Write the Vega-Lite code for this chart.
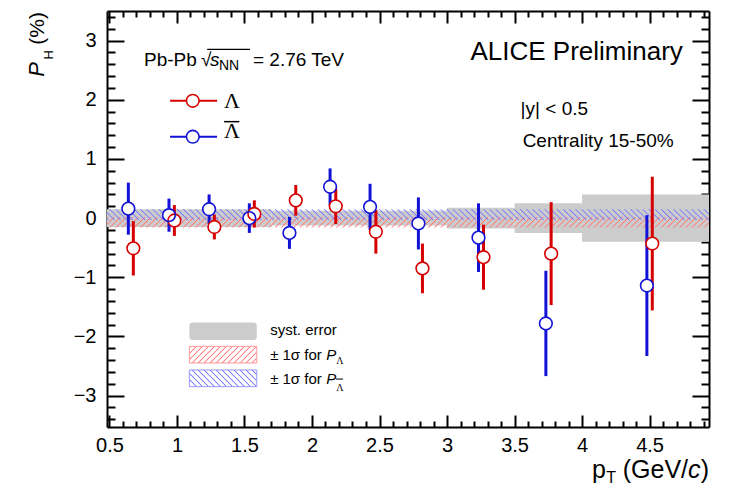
{
  "$schema": "https://vega.github.io/schema/vega-lite/v6.json",
  "width": 602,
  "height": 416,
  "autosize": "none",
  "padding": {"left": 107, "top": 11, "right": 27, "bottom": 61},
  "background": "white",
  "config": {
    "font": "Liberation Sans",
    "view": {"stroke": null},
    "axis": {"grid": false, "domain": true, "domainColor": "black", "domainWidth": 2, "tickColor": "black", "tickWidth": 2, "labelFont": "Liberation Sans", "labelFontSize": 20, "labelColor": "black", "labelFlush": false, "labelOverlap": false, "zindex": 1}
  },
  "datasets": {
    "pol": [
      {"sp": "L", "pt": 0.677, "p": -0.51, "err": 0.46},
      {"sp": "L", "pt": 0.981, "p": -0.04, "err": 0.26},
      {"sp": "L", "pt": 1.277, "p": -0.15, "err": 0.21},
      {"sp": "L", "pt": 1.573, "p": 0.07, "err": 0.23},
      {"sp": "L", "pt": 1.88, "p": 0.3, "err": 0.26},
      {"sp": "L", "pt": 2.176, "p": 0.2, "err": 0.3},
      {"sp": "L", "pt": 2.473, "p": -0.23, "err": 0.37},
      {"sp": "L", "pt": 2.818, "p": -0.85, "err": 0.42},
      {"sp": "L", "pt": 3.27, "p": -0.66, "err": 0.55},
      {"sp": "L", "pt": 3.771, "p": -0.6, "err": 0.87},
      {"sp": "L", "pt": 4.52, "p": -0.43, "err": 1.13},
      {"sp": "AL", "pt": 0.64, "p": 0.16, "err": 0.44},
      {"sp": "AL", "pt": 0.941, "p": 0.05, "err": 0.28},
      {"sp": "AL", "pt": 1.238, "p": 0.15, "err": 0.25},
      {"sp": "AL", "pt": 1.536, "p": 0.0, "err": 0.25},
      {"sp": "AL", "pt": 1.833, "p": -0.25, "err": 0.27},
      {"sp": "AL", "pt": 2.134, "p": 0.53, "err": 0.31},
      {"sp": "AL", "pt": 2.43, "p": 0.19, "err": 0.39},
      {"sp": "AL", "pt": 2.788, "p": -0.09, "err": 0.44},
      {"sp": "AL", "pt": 3.233, "p": -0.33, "err": 0.58},
      {"sp": "AL", "pt": 3.732, "p": -1.78, "err": 0.89},
      {"sp": "AL", "pt": 4.48, "p": -1.14, "err": 1.19}
    ],
    "syst": [
      {"x0": 0.482, "x1": 1.7, "lo": -0.15, "hi": 0.15},
      {"x0": 1.7, "x1": 3.0, "lo": -0.125, "hi": 0.125},
      {"x0": 3.0, "x1": 3.5, "lo": -0.175, "hi": 0.175},
      {"x0": 3.5, "x1": 4.0, "lo": -0.25, "hi": 0.25},
      {"x0": 4.0, "x1": 4.94, "lo": -0.4, "hi": 0.4}
    ]
  },
  "layer": [
    {
      "data": {"name": "syst"},
      "mark": {"type": "rect", "color": "#cccccc"},
      "encoding": {
        "x": {"field": "x0", "type": "quantitative", "scale": {"domain": [0.482, 4.94], "nice": false, "zero": false},
          "axis": {"orient": "bottom", "title": null, "format": "~g", "values": [0.5,0.6,0.7,0.8,0.9,1,1.1,1.2,1.3,1.4,1.5,1.6,1.7,1.8,1.9,2,2.1,2.2,2.3,2.4,2.5,2.6,2.7,2.8,2.9,3,3.1,3.2,3.3,3.4,3.5,3.6,3.7,3.8,3.9,4,4.1,4.2,4.3,4.4,4.5,4.6,4.7,4.8,4.9],
            "tickSize": {"condition": {"test": "abs(datum.value*2-round(datum.value*2))<0.01", "value": -12}, "value": -6},
            "labelExpr": "abs(datum.value*2-round(datum.value*2))<0.01 ? datum.label : ''", "labelPadding": 20}},
        "x2": {"field": "x1"},
        "y": {"field": "lo", "type": "quantitative", "scale": {"domain": [-3.53, 3.5], "nice": false, "zero": false},
          "axis": {"orient": "left", "title": null, "format": "~g", "values": [-3.4,-3.2,-3,-2.8,-2.6,-2.4,-2.2,-2,-1.8,-1.6,-1.4,-1.2,-1,-0.8,-0.6,-0.4,-0.2,0,0.2,0.4,0.6,0.8,1,1.2,1.4,1.6,1.8,2,2.2,2.4,2.6,2.8,3,3.2,3.4],
            "tickSize": {"condition": {"test": "abs(datum.value-round(datum.value))<0.01", "value": -17}, "value": -8},
            "labelExpr": "abs(datum.value-round(datum.value))<0.01 ? datum.label : ''", "labelPadding": 28}},
        "y2": {"field": "hi"}
      }
    },
    {
      "data": {"values": [{}]},
      "mark": {"type": "rect", "fill": {"gradient": "linear", "x1": 0, "y1": 0, "x2": 1.0174, "y2": 0.018, "stops": [
        {"offset":0,"color":"#f770"},{"offset":0.002,"color":"#f77"},{"offset":0.004,"color":"#f770"},
        {"offset":0.01,"color":"#f770"},{"offset":0.012,"color":"#f77"},{"offset":0.014,"color":"#f770"},
        {"offset":0.02,"color":"#f770"},{"offset":0.022,"color":"#f77"},{"offset":0.024,"color":"#f770"},
        {"offset":0.03,"color":"#f770"},{"offset":0.032,"color":"#f77"},{"offset":0.034,"color":"#f770"},
        {"offset":0.04,"color":"#f770"},{"offset":0.042,"color":"#f77"},{"offset":0.044,"color":"#f770"},
        {"offset":0.05,"color":"#f770"},{"offset":0.052,"color":"#f77"},{"offset":0.054,"color":"#f770"},
        {"offset":0.06,"color":"#f770"},{"offset":0.062,"color":"#f77"},{"offset":0.064,"color":"#f770"},
        {"offset":0.07,"color":"#f770"},{"offset":0.072,"color":"#f77"},{"offset":0.074,"color":"#f770"},
        {"offset":0.08,"color":"#f770"},{"offset":0.082,"color":"#f77"},{"offset":0.084,"color":"#f770"},
        {"offset":0.09,"color":"#f770"},{"offset":0.092,"color":"#f77"},{"offset":0.094,"color":"#f770"},
        {"offset":0.1,"color":"#f770"},{"offset":0.102,"color":"#f77"},{"offset":0.104,"color":"#f770"},
        {"offset":0.11,"color":"#f770"},{"offset":0.112,"color":"#f77"},{"offset":0.114,"color":"#f770"},
        {"offset":0.12,"color":"#f770"},{"offset":0.122,"color":"#f77"},{"offset":0.124,"color":"#f770"},
        {"offset":0.13,"color":"#f770"},{"offset":0.132,"color":"#f77"},{"offset":0.134,"color":"#f770"},
        {"offset":0.14,"color":"#f770"},{"offset":0.142,"color":"#f77"},{"offset":0.144,"color":"#f770"},
        {"offset":0.15,"color":"#f770"},{"offset":0.152,"color":"#f77"},{"offset":0.154,"color":"#f770"},
        {"offset":0.16,"color":"#f770"},{"offset":0.162,"color":"#f77"},{"offset":0.164,"color":"#f770"},
        {"offset":0.17,"color":"#f770"},{"offset":0.172,"color":"#f77"},{"offset":0.174,"color":"#f770"},
        {"offset":0.18,"color":"#f770"},{"offset":0.182,"color":"#f77"},{"offset":0.184,"color":"#f770"},
        {"offset":0.19,"color":"#f770"},{"offset":0.192,"color":"#f77"},{"offset":0.194,"color":"#f770"},
        {"offset":0.2,"color":"#f770"},{"offset":0.202,"color":"#f77"},{"offset":0.204,"color":"#f770"},
        {"offset":0.21,"color":"#f770"},{"offset":0.212,"color":"#f77"},{"offset":0.214,"color":"#f770"},
        {"offset":0.22,"color":"#f770"},{"offset":0.222,"color":"#f77"},{"offset":0.224,"color":"#f770"},
        {"offset":0.23,"color":"#f770"},{"offset":0.232,"color":"#f77"},{"offset":0.234,"color":"#f770"},
        {"offset":0.24,"color":"#f770"},{"offset":0.242,"color":"#f77"},{"offset":0.244,"color":"#f770"},
        {"offset":0.25,"color":"#f770"},{"offset":0.252,"color":"#f77"},{"offset":0.254,"color":"#f770"},
        {"offset":0.26,"color":"#f770"},{"offset":0.262,"color":"#f77"},{"offset":0.264,"color":"#f770"},
        {"offset":0.27,"color":"#f770"},{"offset":0.272,"color":"#f77"},{"offset":0.274,"color":"#f770"},
        {"offset":0.28,"color":"#f770"},{"offset":0.282,"color":"#f77"},{"offset":0.284,"color":"#f770"},
        {"offset":0.29,"color":"#f770"},{"offset":0.292,"color":"#f77"},{"offset":0.294,"color":"#f770"},
        {"offset":0.3,"color":"#f770"},{"offset":0.302,"color":"#f77"},{"offset":0.304,"color":"#f770"},
        {"offset":0.31,"color":"#f770"},{"offset":0.312,"color":"#f77"},{"offset":0.314,"color":"#f770"},
        {"offset":0.32,"color":"#f770"},{"offset":0.322,"color":"#f77"},{"offset":0.324,"color":"#f770"},
        {"offset":0.33,"color":"#f770"},{"offset":0.332,"color":"#f77"},{"offset":0.334,"color":"#f770"},
        {"offset":0.34,"color":"#f770"},{"offset":0.342,"color":"#f77"},{"offset":0.344,"color":"#f770"},
        {"offset":0.35,"color":"#f770"},{"offset":0.352,"color":"#f77"},{"offset":0.354,"color":"#f770"},
        {"offset":0.36,"color":"#f770"},{"offset":0.362,"color":"#f77"},{"offset":0.364,"color":"#f770"},
        {"offset":0.37,"color":"#f770"},{"offset":0.372,"color":"#f77"},{"offset":0.374,"color":"#f770"},
        {"offset":0.38,"color":"#f770"},{"offset":0.382,"color":"#f77"},{"offset":0.384,"color":"#f770"},
        {"offset":0.39,"color":"#f770"},{"offset":0.392,"color":"#f77"},{"offset":0.394,"color":"#f770"},
        {"offset":0.4,"color":"#f770"},{"offset":0.402,"color":"#f77"},{"offset":0.404,"color":"#f770"},
        {"offset":0.41,"color":"#f770"},{"offset":0.412,"color":"#f77"},{"offset":0.414,"color":"#f770"},
        {"offset":0.42,"color":"#f770"},{"offset":0.422,"color":"#f77"},{"offset":0.424,"color":"#f770"},
        {"offset":0.43,"color":"#f770"},{"offset":0.432,"color":"#f77"},{"offset":0.434,"color":"#f770"},
        {"offset":0.44,"color":"#f770"},{"offset":0.442,"color":"#f77"},{"offset":0.444,"color":"#f770"},
        {"offset":0.45,"color":"#f770"},{"offset":0.452,"color":"#f77"},{"offset":0.454,"color":"#f770"},
        {"offset":0.46,"color":"#f770"},{"offset":0.462,"color":"#f77"},{"offset":0.464,"color":"#f770"},
        {"offset":0.47,"color":"#f770"},{"offset":0.472,"color":"#f77"},{"offset":0.474,"color":"#f770"},
        {"offset":0.48,"color":"#f770"},{"offset":0.482,"color":"#f77"},{"offset":0.484,"color":"#f770"},
        {"offset":0.49,"color":"#f770"},{"offset":0.492,"color":"#f77"},{"offset":0.494,"color":"#f770"},
        {"offset":0.5,"color":"#f770"},{"offset":0.502,"color":"#f77"},{"offset":0.504,"color":"#f770"},
        {"offset":0.51,"color":"#f770"},{"offset":0.512,"color":"#f77"},{"offset":0.514,"color":"#f770"},
        {"offset":0.52,"color":"#f770"},{"offset":0.522,"color":"#f77"},{"offset":0.524,"color":"#f770"},
        {"offset":0.53,"color":"#f770"},{"offset":0.532,"color":"#f77"},{"offset":0.534,"color":"#f770"},
        {"offset":0.54,"color":"#f770"},{"offset":0.542,"color":"#f77"},{"offset":0.544,"color":"#f770"},
        {"offset":0.55,"color":"#f770"},{"offset":0.552,"color":"#f77"},{"offset":0.554,"color":"#f770"},
        {"offset":0.56,"color":"#f770"},{"offset":0.562,"color":"#f77"},{"offset":0.564,"color":"#f770"},
        {"offset":0.57,"color":"#f770"},{"offset":0.572,"color":"#f77"},{"offset":0.574,"color":"#f770"},
        {"offset":0.58,"color":"#f770"},{"offset":0.582,"color":"#f77"},{"offset":0.584,"color":"#f770"},
        {"offset":0.59,"color":"#f770"},{"offset":0.592,"color":"#f77"},{"offset":0.594,"color":"#f770"},
        {"offset":0.6,"color":"#f770"},{"offset":0.602,"color":"#f77"},{"offset":0.604,"color":"#f770"},
        {"offset":0.61,"color":"#f770"},{"offset":0.612,"color":"#f77"},{"offset":0.614,"color":"#f770"},
        {"offset":0.62,"color":"#f770"},{"offset":0.622,"color":"#f77"},{"offset":0.624,"color":"#f770"},
        {"offset":0.63,"color":"#f770"},{"offset":0.632,"color":"#f77"},{"offset":0.634,"color":"#f770"},
        {"offset":0.64,"color":"#f770"},{"offset":0.642,"color":"#f77"},{"offset":0.644,"color":"#f770"},
        {"offset":0.65,"color":"#f770"},{"offset":0.652,"color":"#f77"},{"offset":0.654,"color":"#f770"},
        {"offset":0.66,"color":"#f770"},{"offset":0.662,"color":"#f77"},{"offset":0.664,"color":"#f770"},
        {"offset":0.67,"color":"#f770"},{"offset":0.672,"color":"#f77"},{"offset":0.674,"color":"#f770"},
        {"offset":0.68,"color":"#f770"},{"offset":0.682,"color":"#f77"},{"offset":0.684,"color":"#f770"},
        {"offset":0.69,"color":"#f770"},{"offset":0.692,"color":"#f77"},{"offset":0.694,"color":"#f770"},
        {"offset":0.7,"color":"#f770"},{"offset":0.702,"color":"#f77"},{"offset":0.704,"color":"#f770"},
        {"offset":0.71,"color":"#f770"},{"offset":0.712,"color":"#f77"},{"offset":0.714,"color":"#f770"},
        {"offset":0.72,"color":"#f770"},{"offset":0.722,"color":"#f77"},{"offset":0.724,"color":"#f770"},
        {"offset":0.73,"color":"#f770"},{"offset":0.732,"color":"#f77"},{"offset":0.734,"color":"#f770"},
        {"offset":0.74,"color":"#f770"},{"offset":0.742,"color":"#f77"},{"offset":0.744,"color":"#f770"},
        {"offset":0.75,"color":"#f770"},{"offset":0.752,"color":"#f77"},{"offset":0.754,"color":"#f770"},
        {"offset":0.76,"color":"#f770"},{"offset":0.762,"color":"#f77"},{"offset":0.764,"color":"#f770"},
        {"offset":0.77,"color":"#f770"},{"offset":0.772,"color":"#f77"},{"offset":0.774,"color":"#f770"},
        {"offset":0.78,"color":"#f770"},{"offset":0.782,"color":"#f77"},{"offset":0.784,"color":"#f770"},
        {"offset":0.79,"color":"#f770"},{"offset":0.792,"color":"#f77"},{"offset":0.794,"color":"#f770"},
        {"offset":0.8,"color":"#f770"},{"offset":0.802,"color":"#f77"},{"offset":0.804,"color":"#f770"},
        {"offset":0.81,"color":"#f770"},{"offset":0.812,"color":"#f77"},{"offset":0.814,"color":"#f770"},
        {"offset":0.82,"color":"#f770"},{"offset":0.822,"color":"#f77"},{"offset":0.824,"color":"#f770"},
        {"offset":0.83,"color":"#f770"},{"offset":0.832,"color":"#f77"},{"offset":0.834,"color":"#f770"},
        {"offset":0.84,"color":"#f770"},{"offset":0.842,"color":"#f77"},{"offset":0.844,"color":"#f770"},
        {"offset":0.85,"color":"#f770"},{"offset":0.852,"color":"#f77"},{"offset":0.854,"color":"#f770"},
        {"offset":0.86,"color":"#f770"},{"offset":0.862,"color":"#f77"},{"offset":0.864,"color":"#f770"},
        {"offset":0.87,"color":"#f770"},{"offset":0.872,"color":"#f77"},{"offset":0.874,"color":"#f770"},
        {"offset":0.88,"color":"#f770"},{"offset":0.882,"color":"#f77"},{"offset":0.884,"color":"#f770"},
        {"offset":0.89,"color":"#f770"},{"offset":0.892,"color":"#f77"},{"offset":0.894,"color":"#f770"},
        {"offset":0.9,"color":"#f770"},{"offset":0.902,"color":"#f77"},{"offset":0.904,"color":"#f770"},
        {"offset":0.91,"color":"#f770"},{"offset":0.912,"color":"#f77"},{"offset":0.914,"color":"#f770"},
        {"offset":0.92,"color":"#f770"},{"offset":0.922,"color":"#f77"},{"offset":0.924,"color":"#f770"},
        {"offset":0.93,"color":"#f770"},{"offset":0.932,"color":"#f77"},{"offset":0.934,"color":"#f770"},
        {"offset":0.94,"color":"#f770"},{"offset":0.942,"color":"#f77"},{"offset":0.944,"color":"#f770"},
        {"offset":0.95,"color":"#f770"},{"offset":0.952,"color":"#f77"},{"offset":0.954,"color":"#f770"},
        {"offset":0.96,"color":"#f770"},{"offset":0.962,"color":"#f77"},{"offset":0.964,"color":"#f770"},
        {"offset":0.97,"color":"#f770"},{"offset":0.972,"color":"#f77"},{"offset":0.974,"color":"#f770"},
        {"offset":0.98,"color":"#f770"},{"offset":0.982,"color":"#f77"},{"offset":0.984,"color":"#f770"},
        {"offset":0.99,"color":"#f770"},{"offset":0.992,"color":"#f77"},{"offset":0.994,"color":"#f770"}
      ]}},
      "encoding": {
        "x": {"datum": 0.482, "type": "quantitative",
          "axis": {"orient": "top", "title": null, "labels": false, "values": [0.5,0.6,0.7,0.8,0.9,1,1.1,1.2,1.3,1.4,1.5,1.6,1.7,1.8,1.9,2,2.1,2.2,2.3,2.4,2.5,2.6,2.7,2.8,2.9,3,3.1,3.2,3.3,3.4,3.5,3.6,3.7,3.8,3.9,4,4.1,4.2,4.3,4.4,4.5,4.6,4.7,4.8,4.9],
            "tickSize": {"condition": {"test": "abs(datum.value*2-round(datum.value*2))<0.01", "value": -12}, "value": -6}}},
        "x2": {"datum": 4.94},
        "y": {"datum": -0.16, "type": "quantitative",
          "axis": {"orient": "right", "title": null, "labels": false, "values": [-3.4,-3.2,-3,-2.8,-2.6,-2.4,-2.2,-2,-1.8,-1.6,-1.4,-1.2,-1,-0.8,-0.6,-0.4,-0.2,0,0.2,0.4,0.6,0.8,1,1.2,1.4,1.6,1.8,2,2.2,2.4,2.6,2.8,3,3.2,3.4],
            "tickSize": {"condition": {"test": "abs(datum.value-round(datum.value))<0.01", "value": -17}, "value": -8}}},
        "y2": {"datum": 0.02}
      }
    },
    {
      "data": {"values": [{}]},
      "mark": {"type": "rect", "fill": {"gradient": "linear", "x1": 0, "y1": 1, "x2": 1.0174, "y2": 0.982, "stops": [
        {"offset":0,"color":"#77f0"},{"offset":0.002,"color":"#77f"},{"offset":0.004,"color":"#77f0"},
        {"offset":0.01,"color":"#77f0"},{"offset":0.012,"color":"#77f"},{"offset":0.014,"color":"#77f0"},
        {"offset":0.02,"color":"#77f0"},{"offset":0.022,"color":"#77f"},{"offset":0.024,"color":"#77f0"},
        {"offset":0.03,"color":"#77f0"},{"offset":0.032,"color":"#77f"},{"offset":0.034,"color":"#77f0"},
        {"offset":0.04,"color":"#77f0"},{"offset":0.042,"color":"#77f"},{"offset":0.044,"color":"#77f0"},
        {"offset":0.05,"color":"#77f0"},{"offset":0.052,"color":"#77f"},{"offset":0.054,"color":"#77f0"},
        {"offset":0.06,"color":"#77f0"},{"offset":0.062,"color":"#77f"},{"offset":0.064,"color":"#77f0"},
        {"offset":0.07,"color":"#77f0"},{"offset":0.072,"color":"#77f"},{"offset":0.074,"color":"#77f0"},
        {"offset":0.08,"color":"#77f0"},{"offset":0.082,"color":"#77f"},{"offset":0.084,"color":"#77f0"},
        {"offset":0.09,"color":"#77f0"},{"offset":0.092,"color":"#77f"},{"offset":0.094,"color":"#77f0"},
        {"offset":0.1,"color":"#77f0"},{"offset":0.102,"color":"#77f"},{"offset":0.104,"color":"#77f0"},
        {"offset":0.11,"color":"#77f0"},{"offset":0.112,"color":"#77f"},{"offset":0.114,"color":"#77f0"},
        {"offset":0.12,"color":"#77f0"},{"offset":0.122,"color":"#77f"},{"offset":0.124,"color":"#77f0"},
        {"offset":0.13,"color":"#77f0"},{"offset":0.132,"color":"#77f"},{"offset":0.134,"color":"#77f0"},
        {"offset":0.14,"color":"#77f0"},{"offset":0.142,"color":"#77f"},{"offset":0.144,"color":"#77f0"},
        {"offset":0.15,"color":"#77f0"},{"offset":0.152,"color":"#77f"},{"offset":0.154,"color":"#77f0"},
        {"offset":0.16,"color":"#77f0"},{"offset":0.162,"color":"#77f"},{"offset":0.164,"color":"#77f0"},
        {"offset":0.17,"color":"#77f0"},{"offset":0.172,"color":"#77f"},{"offset":0.174,"color":"#77f0"},
        {"offset":0.18,"color":"#77f0"},{"offset":0.182,"color":"#77f"},{"offset":0.184,"color":"#77f0"},
        {"offset":0.19,"color":"#77f0"},{"offset":0.192,"color":"#77f"},{"offset":0.194,"color":"#77f0"},
        {"offset":0.2,"color":"#77f0"},{"offset":0.202,"color":"#77f"},{"offset":0.204,"color":"#77f0"},
        {"offset":0.21,"color":"#77f0"},{"offset":0.212,"color":"#77f"},{"offset":0.214,"color":"#77f0"},
        {"offset":0.22,"color":"#77f0"},{"offset":0.222,"color":"#77f"},{"offset":0.224,"color":"#77f0"},
        {"offset":0.23,"color":"#77f0"},{"offset":0.232,"color":"#77f"},{"offset":0.234,"color":"#77f0"},
        {"offset":0.24,"color":"#77f0"},{"offset":0.242,"color":"#77f"},{"offset":0.244,"color":"#77f0"},
        {"offset":0.25,"color":"#77f0"},{"offset":0.252,"color":"#77f"},{"offset":0.254,"color":"#77f0"},
        {"offset":0.26,"color":"#77f0"},{"offset":0.262,"color":"#77f"},{"offset":0.264,"color":"#77f0"},
        {"offset":0.27,"color":"#77f0"},{"offset":0.272,"color":"#77f"},{"offset":0.274,"color":"#77f0"},
        {"offset":0.28,"color":"#77f0"},{"offset":0.282,"color":"#77f"},{"offset":0.284,"color":"#77f0"},
        {"offset":0.29,"color":"#77f0"},{"offset":0.292,"color":"#77f"},{"offset":0.294,"color":"#77f0"},
        {"offset":0.3,"color":"#77f0"},{"offset":0.302,"color":"#77f"},{"offset":0.304,"color":"#77f0"},
        {"offset":0.31,"color":"#77f0"},{"offset":0.312,"color":"#77f"},{"offset":0.314,"color":"#77f0"},
        {"offset":0.32,"color":"#77f0"},{"offset":0.322,"color":"#77f"},{"offset":0.324,"color":"#77f0"},
        {"offset":0.33,"color":"#77f0"},{"offset":0.332,"color":"#77f"},{"offset":0.334,"color":"#77f0"},
        {"offset":0.34,"color":"#77f0"},{"offset":0.342,"color":"#77f"},{"offset":0.344,"color":"#77f0"},
        {"offset":0.35,"color":"#77f0"},{"offset":0.352,"color":"#77f"},{"offset":0.354,"color":"#77f0"},
        {"offset":0.36,"color":"#77f0"},{"offset":0.362,"color":"#77f"},{"offset":0.364,"color":"#77f0"},
        {"offset":0.37,"color":"#77f0"},{"offset":0.372,"color":"#77f"},{"offset":0.374,"color":"#77f0"},
        {"offset":0.38,"color":"#77f0"},{"offset":0.382,"color":"#77f"},{"offset":0.384,"color":"#77f0"},
        {"offset":0.39,"color":"#77f0"},{"offset":0.392,"color":"#77f"},{"offset":0.394,"color":"#77f0"},
        {"offset":0.4,"color":"#77f0"},{"offset":0.402,"color":"#77f"},{"offset":0.404,"color":"#77f0"},
        {"offset":0.41,"color":"#77f0"},{"offset":0.412,"color":"#77f"},{"offset":0.414,"color":"#77f0"},
        {"offset":0.42,"color":"#77f0"},{"offset":0.422,"color":"#77f"},{"offset":0.424,"color":"#77f0"},
        {"offset":0.43,"color":"#77f0"},{"offset":0.432,"color":"#77f"},{"offset":0.434,"color":"#77f0"},
        {"offset":0.44,"color":"#77f0"},{"offset":0.442,"color":"#77f"},{"offset":0.444,"color":"#77f0"},
        {"offset":0.45,"color":"#77f0"},{"offset":0.452,"color":"#77f"},{"offset":0.454,"color":"#77f0"},
        {"offset":0.46,"color":"#77f0"},{"offset":0.462,"color":"#77f"},{"offset":0.464,"color":"#77f0"},
        {"offset":0.47,"color":"#77f0"},{"offset":0.472,"color":"#77f"},{"offset":0.474,"color":"#77f0"},
        {"offset":0.48,"color":"#77f0"},{"offset":0.482,"color":"#77f"},{"offset":0.484,"color":"#77f0"},
        {"offset":0.49,"color":"#77f0"},{"offset":0.492,"color":"#77f"},{"offset":0.494,"color":"#77f0"},
        {"offset":0.5,"color":"#77f0"},{"offset":0.502,"color":"#77f"},{"offset":0.504,"color":"#77f0"},
        {"offset":0.51,"color":"#77f0"},{"offset":0.512,"color":"#77f"},{"offset":0.514,"color":"#77f0"},
        {"offset":0.52,"color":"#77f0"},{"offset":0.522,"color":"#77f"},{"offset":0.524,"color":"#77f0"},
        {"offset":0.53,"color":"#77f0"},{"offset":0.532,"color":"#77f"},{"offset":0.534,"color":"#77f0"},
        {"offset":0.54,"color":"#77f0"},{"offset":0.542,"color":"#77f"},{"offset":0.544,"color":"#77f0"},
        {"offset":0.55,"color":"#77f0"},{"offset":0.552,"color":"#77f"},{"offset":0.554,"color":"#77f0"},
        {"offset":0.56,"color":"#77f0"},{"offset":0.562,"color":"#77f"},{"offset":0.564,"color":"#77f0"},
        {"offset":0.57,"color":"#77f0"},{"offset":0.572,"color":"#77f"},{"offset":0.574,"color":"#77f0"},
        {"offset":0.58,"color":"#77f0"},{"offset":0.582,"color":"#77f"},{"offset":0.584,"color":"#77f0"},
        {"offset":0.59,"color":"#77f0"},{"offset":0.592,"color":"#77f"},{"offset":0.594,"color":"#77f0"},
        {"offset":0.6,"color":"#77f0"},{"offset":0.602,"color":"#77f"},{"offset":0.604,"color":"#77f0"},
        {"offset":0.61,"color":"#77f0"},{"offset":0.612,"color":"#77f"},{"offset":0.614,"color":"#77f0"},
        {"offset":0.62,"color":"#77f0"},{"offset":0.622,"color":"#77f"},{"offset":0.624,"color":"#77f0"},
        {"offset":0.63,"color":"#77f0"},{"offset":0.632,"color":"#77f"},{"offset":0.634,"color":"#77f0"},
        {"offset":0.64,"color":"#77f0"},{"offset":0.642,"color":"#77f"},{"offset":0.644,"color":"#77f0"},
        {"offset":0.65,"color":"#77f0"},{"offset":0.652,"color":"#77f"},{"offset":0.654,"color":"#77f0"},
        {"offset":0.66,"color":"#77f0"},{"offset":0.662,"color":"#77f"},{"offset":0.664,"color":"#77f0"},
        {"offset":0.67,"color":"#77f0"},{"offset":0.672,"color":"#77f"},{"offset":0.674,"color":"#77f0"},
        {"offset":0.68,"color":"#77f0"},{"offset":0.682,"color":"#77f"},{"offset":0.684,"color":"#77f0"},
        {"offset":0.69,"color":"#77f0"},{"offset":0.692,"color":"#77f"},{"offset":0.694,"color":"#77f0"},
        {"offset":0.7,"color":"#77f0"},{"offset":0.702,"color":"#77f"},{"offset":0.704,"color":"#77f0"},
        {"offset":0.71,"color":"#77f0"},{"offset":0.712,"color":"#77f"},{"offset":0.714,"color":"#77f0"},
        {"offset":0.72,"color":"#77f0"},{"offset":0.722,"color":"#77f"},{"offset":0.724,"color":"#77f0"},
        {"offset":0.73,"color":"#77f0"},{"offset":0.732,"color":"#77f"},{"offset":0.734,"color":"#77f0"},
        {"offset":0.74,"color":"#77f0"},{"offset":0.742,"color":"#77f"},{"offset":0.744,"color":"#77f0"},
        {"offset":0.75,"color":"#77f0"},{"offset":0.752,"color":"#77f"},{"offset":0.754,"color":"#77f0"},
        {"offset":0.76,"color":"#77f0"},{"offset":0.762,"color":"#77f"},{"offset":0.764,"color":"#77f0"},
        {"offset":0.77,"color":"#77f0"},{"offset":0.772,"color":"#77f"},{"offset":0.774,"color":"#77f0"},
        {"offset":0.78,"color":"#77f0"},{"offset":0.782,"color":"#77f"},{"offset":0.784,"color":"#77f0"},
        {"offset":0.79,"color":"#77f0"},{"offset":0.792,"color":"#77f"},{"offset":0.794,"color":"#77f0"},
        {"offset":0.8,"color":"#77f0"},{"offset":0.802,"color":"#77f"},{"offset":0.804,"color":"#77f0"},
        {"offset":0.81,"color":"#77f0"},{"offset":0.812,"color":"#77f"},{"offset":0.814,"color":"#77f0"},
        {"offset":0.82,"color":"#77f0"},{"offset":0.822,"color":"#77f"},{"offset":0.824,"color":"#77f0"},
        {"offset":0.83,"color":"#77f0"},{"offset":0.832,"color":"#77f"},{"offset":0.834,"color":"#77f0"},
        {"offset":0.84,"color":"#77f0"},{"offset":0.842,"color":"#77f"},{"offset":0.844,"color":"#77f0"},
        {"offset":0.85,"color":"#77f0"},{"offset":0.852,"color":"#77f"},{"offset":0.854,"color":"#77f0"},
        {"offset":0.86,"color":"#77f0"},{"offset":0.862,"color":"#77f"},{"offset":0.864,"color":"#77f0"},
        {"offset":0.87,"color":"#77f0"},{"offset":0.872,"color":"#77f"},{"offset":0.874,"color":"#77f0"},
        {"offset":0.88,"color":"#77f0"},{"offset":0.882,"color":"#77f"},{"offset":0.884,"color":"#77f0"},
        {"offset":0.89,"color":"#77f0"},{"offset":0.892,"color":"#77f"},{"offset":0.894,"color":"#77f0"},
        {"offset":0.9,"color":"#77f0"},{"offset":0.902,"color":"#77f"},{"offset":0.904,"color":"#77f0"},
        {"offset":0.91,"color":"#77f0"},{"offset":0.912,"color":"#77f"},{"offset":0.914,"color":"#77f0"},
        {"offset":0.92,"color":"#77f0"},{"offset":0.922,"color":"#77f"},{"offset":0.924,"color":"#77f0"},
        {"offset":0.93,"color":"#77f0"},{"offset":0.932,"color":"#77f"},{"offset":0.934,"color":"#77f0"},
        {"offset":0.94,"color":"#77f0"},{"offset":0.942,"color":"#77f"},{"offset":0.944,"color":"#77f0"},
        {"offset":0.95,"color":"#77f0"},{"offset":0.952,"color":"#77f"},{"offset":0.954,"color":"#77f0"},
        {"offset":0.96,"color":"#77f0"},{"offset":0.962,"color":"#77f"},{"offset":0.964,"color":"#77f0"},
        {"offset":0.97,"color":"#77f0"},{"offset":0.972,"color":"#77f"},{"offset":0.974,"color":"#77f0"},
        {"offset":0.98,"color":"#77f0"},{"offset":0.982,"color":"#77f"},{"offset":0.984,"color":"#77f0"},
        {"offset":0.99,"color":"#77f0"},{"offset":0.992,"color":"#77f"},{"offset":0.994,"color":"#77f0"}
      ]}},
      "encoding": {
        "x": {"datum": 0.482, "type": "quantitative", "axis": null},
        "x2": {"datum": 4.94},
        "y": {"datum": -0.03, "type": "quantitative", "axis": null},
        "y2": {"datum": 0.15}
      }
    },
    {
      "data": {"values": [{}]},
      "mark": {"type": "rect", "fill": "#cccccc", "cornerRadius": 3},
      "encoding": {
        "x": {"datum": 1.092, "type": "quantitative", "axis": null},
        "x2": {"datum": 1.591},
        "y": {"datum": -1.762, "type": "quantitative", "axis": null},
        "y2": {"datum": -2.059}
      }
    },
    {
      "data": {"values": [{}]},
      "mark": {"type": "rect", "stroke": "#f99", "strokeWidth": 1, "fill": {"gradient": "linear", "x1": 0, "y1": 0, "x2": 1.175, "y2": 0.289, "stops": [
        {"offset":0,"color":"#f770"},{"offset":0.0143,"color":"#f77"},{"offset":0.0286,"color":"#f770"},
        {"offset":0.0714,"color":"#f770"},{"offset":0.0857,"color":"#f77"},{"offset":0.1,"color":"#f770"},
        {"offset":0.1429,"color":"#f770"},{"offset":0.1572,"color":"#f77"},{"offset":0.1715,"color":"#f770"},
        {"offset":0.2143,"color":"#f770"},{"offset":0.2286,"color":"#f77"},{"offset":0.2429,"color":"#f770"},
        {"offset":0.2857,"color":"#f770"},{"offset":0.3,"color":"#f77"},{"offset":0.3143,"color":"#f770"},
        {"offset":0.3571,"color":"#f770"},{"offset":0.3714,"color":"#f77"},{"offset":0.3857,"color":"#f770"},
        {"offset":0.4286,"color":"#f770"},{"offset":0.4429,"color":"#f77"},{"offset":0.4572,"color":"#f770"},
        {"offset":0.5,"color":"#f770"},{"offset":0.5143,"color":"#f77"},{"offset":0.5286,"color":"#f770"},
        {"offset":0.5714,"color":"#f770"},{"offset":0.5857,"color":"#f77"},{"offset":0.6,"color":"#f770"},
        {"offset":0.6429,"color":"#f770"},{"offset":0.6572,"color":"#f77"},{"offset":0.6715,"color":"#f770"},
        {"offset":0.7143,"color":"#f770"},{"offset":0.7286,"color":"#f77"},{"offset":0.7429,"color":"#f770"},
        {"offset":0.7857,"color":"#f770"},{"offset":0.8,"color":"#f77"},{"offset":0.8143,"color":"#f770"},
        {"offset":0.8571,"color":"#f770"},{"offset":0.8714,"color":"#f77"},{"offset":0.8857,"color":"#f770"},
        {"offset":0.9286,"color":"#f770"},{"offset":0.9429,"color":"#f77"},{"offset":0.9572,"color":"#f770"}
      ]}},
      "encoding": {
        "x": {"datum": 1.092, "type": "quantitative", "axis": null},
        "x2": {"datum": 1.591},
        "y": {"datum": -2.167, "type": "quantitative", "axis": null},
        "y2": {"datum": -2.448}
      }
    },
    {
      "data": {"values": [{}]},
      "mark": {"type": "rect", "stroke": "#99f", "strokeWidth": 1, "fill": {"gradient": "linear", "x1": 0, "y1": 1, "x2": 1.175, "y2": 0.711, "stops": [
        {"offset":0,"color":"#77f0"},{"offset":0.0143,"color":"#77f"},{"offset":0.0286,"color":"#77f0"},
        {"offset":0.0714,"color":"#77f0"},{"offset":0.0857,"color":"#77f"},{"offset":0.1,"color":"#77f0"},
        {"offset":0.1429,"color":"#77f0"},{"offset":0.1572,"color":"#77f"},{"offset":0.1715,"color":"#77f0"},
        {"offset":0.2143,"color":"#77f0"},{"offset":0.2286,"color":"#77f"},{"offset":0.2429,"color":"#77f0"},
        {"offset":0.2857,"color":"#77f0"},{"offset":0.3,"color":"#77f"},{"offset":0.3143,"color":"#77f0"},
        {"offset":0.3571,"color":"#77f0"},{"offset":0.3714,"color":"#77f"},{"offset":0.3857,"color":"#77f0"},
        {"offset":0.4286,"color":"#77f0"},{"offset":0.4429,"color":"#77f"},{"offset":0.4572,"color":"#77f0"},
        {"offset":0.5,"color":"#77f0"},{"offset":0.5143,"color":"#77f"},{"offset":0.5286,"color":"#77f0"},
        {"offset":0.5714,"color":"#77f0"},{"offset":0.5857,"color":"#77f"},{"offset":0.6,"color":"#77f0"},
        {"offset":0.6429,"color":"#77f0"},{"offset":0.6572,"color":"#77f"},{"offset":0.6715,"color":"#77f0"},
        {"offset":0.7143,"color":"#77f0"},{"offset":0.7286,"color":"#77f"},{"offset":0.7429,"color":"#77f0"},
        {"offset":0.7857,"color":"#77f0"},{"offset":0.8,"color":"#77f"},{"offset":0.8143,"color":"#77f0"},
        {"offset":0.8571,"color":"#77f0"},{"offset":0.8714,"color":"#77f"},{"offset":0.8857,"color":"#77f0"},
        {"offset":0.9286,"color":"#77f0"},{"offset":0.9429,"color":"#77f"},{"offset":0.9572,"color":"#77f0"}
      ]}},
      "encoding": {
        "x": {"datum": 1.092, "type": "quantitative", "axis": null},
        "x2": {"datum": 1.591},
        "y": {"datum": -2.566, "type": "quantitative", "axis": null},
        "y2": {"datum": -2.848}
      }
    },
    {
      "data": {"name": "pol"},
      "mark": {"type": "errorbar", "thickness": 3},
      "encoding": {
        "x": {"field": "pt", "type": "quantitative", "axis": null},
        "y": {"field": "p", "type": "quantitative", "axis": null},
        "yError": {"field": "err"},
        "color": {"field": "sp", "type": "nominal", "scale": {"domain": ["L", "AL"], "range": ["#d60000", "#1212d6"]}, "legend": null}
      }
    },
    {
      "data": {"name": "pol"},
      "mark": {"type": "point", "shape": "circle", "filled": true, "color": "white", "opacity": 1, "size": 160, "strokeWidth": 0},
      "encoding": {
        "x": {"field": "pt", "type": "quantitative", "axis": null},
        "y": {"field": "p", "type": "quantitative", "axis": null}
      }
    },
    {
      "data": {"name": "pol"},
      "mark": {"type": "point", "shape": "circle", "filled": false, "opacity": 1, "size": 160, "strokeWidth": 1.6},
      "encoding": {
        "x": {"field": "pt", "type": "quantitative", "axis": null},
        "y": {"field": "p", "type": "quantitative", "axis": null},
        "color": {"field": "sp", "type": "nominal", "legend": null}
      }
    },
    {
      "data": {"values": [{}]},
      "mark": {"type": "rule", "color": "#d60000", "strokeWidth": 2},
      "encoding": {"x": {"datum": 0.949, "type": "quantitative", "axis": null}, "x2": {"datum": 1.297}, "y": {"datum": 1.983, "type": "quantitative", "axis": null}}
    },
    {
      "data": {"values": [{}]},
      "mark": {"type": "point", "shape": "circle", "fill": "white", "stroke": "#d60000", "strokeWidth": 1.6, "opacity": 1, "size": 160},
      "encoding": {"x": {"datum": 1.117, "type": "quantitative", "axis": null}, "y": {"datum": 1.983, "type": "quantitative", "axis": null}}
    },
    {
      "data": {"values": [{}]},
      "mark": {"type": "rule", "color": "#1212d6", "strokeWidth": 2},
      "encoding": {"x": {"datum": 0.949, "type": "quantitative", "axis": null}, "x2": {"datum": 1.297}, "y": {"datum": 1.375, "type": "quantitative", "axis": null}}
    },
    {
      "data": {"values": [{}]},
      "mark": {"type": "point", "shape": "circle", "fill": "white", "stroke": "#1212d6", "strokeWidth": 1.6, "opacity": 1, "size": 160},
      "encoding": {"x": {"datum": 1.117, "type": "quantitative", "axis": null}, "y": {"datum": 1.375, "type": "quantitative", "axis": null}}
    },
    {
      "data": {"values": [{}]},
      "mark": {"type": "text", "text": "Λ", "font": "Liberation Serif", "fontSize": 22, "align": "left", "baseline": "alphabetic", "color": "black"},
      "encoding": {"x": {"datum": 1.349, "type": "quantitative", "axis": null}, "y": {"datum": 1.86, "type": "quantitative", "axis": null}}
    },
    {
      "data": {"values": [{}]},
      "mark": {"type": "text", "text": "Λ", "font": "Liberation Serif", "fontSize": 22, "align": "left", "baseline": "alphabetic", "color": "black"},
      "encoding": {"x": {"datum": 1.349, "type": "quantitative", "axis": null}, "y": {"datum": 1.353, "type": "quantitative", "axis": null}}
    },
    {
      "data": {"values": [{}]},
      "mark": {"type": "rule", "color": "black", "strokeWidth": 1.5},
      "encoding": {"x": {"datum": 1.349, "type": "quantitative", "axis": null}, "x2": {"datum": 1.462}, "y": {"datum": 1.63, "type": "quantitative", "axis": null}}
    },
    {
      "data": {"values": [{}]},
      "mark": {"type": "text", "text": "Pb-Pb", "fontSize": 19, "align": "left", "baseline": "alphabetic", "color": "black"},
      "encoding": {"x": {"datum": 0.756, "type": "quantitative", "axis": null}, "y": {"datum": 2.574, "type": "quantitative", "axis": null}}
    },
    {
      "data": {"values": [{}]},
      "mark": {"type": "text", "text": "√", "fontSize": 19, "align": "left", "baseline": "alphabetic", "color": "black", "dx": 57},
      "encoding": {"x": {"datum": 0.756, "type": "quantitative", "axis": null}, "y": {"datum": 2.574, "type": "quantitative", "axis": null}}
    },
    {
      "data": {"values": [{}]},
      "mark": {"type": "text", "text": "s", "fontSize": 19, "fontStyle": "italic", "align": "left", "baseline": "alphabetic", "color": "black", "dx": 66},
      "encoding": {"x": {"datum": 0.756, "type": "quantitative", "axis": null}, "y": {"datum": 2.574, "type": "quantitative", "axis": null}}
    },
    {
      "data": {"values": [{}]},
      "mark": {"type": "text", "text": "NN", "fontSize": 14, "align": "left", "baseline": "alphabetic", "color": "black", "dx": 75, "dy": 4},
      "encoding": {"x": {"datum": 0.756, "type": "quantitative", "axis": null}, "y": {"datum": 2.574, "type": "quantitative", "axis": null}}
    },
    {
      "data": {"values": [{}]},
      "mark": {"type": "text", "text": "= 2.76 TeV", "fontSize": 19, "align": "left", "baseline": "alphabetic", "color": "black", "dx": 109},
      "encoding": {"x": {"datum": 0.756, "type": "quantitative", "axis": null}, "y": {"datum": 2.574, "type": "quantitative", "axis": null}}
    },
    {
      "data": {"values": [{}]},
      "mark": {"type": "rule", "color": "black", "strokeWidth": 1.2},
      "encoding": {"x": {"datum": 1.224, "type": "quantitative", "axis": null}, "x2": {"datum": 1.541}, "y": {"datum": 2.853, "type": "quantitative", "axis": null}}
    },
    {
      "data": {"values": [{}]},
      "mark": {"type": "text", "text": "ALICE Preliminary", "fontSize": 26, "align": "center", "baseline": "alphabetic", "color": "black"},
      "encoding": {"x": {"datum": 3.96, "type": "quantitative", "axis": null}, "y": {"datum": 2.68, "type": "quantitative", "axis": null}}
    },
    {
      "data": {"values": [{}]},
      "mark": {"type": "text", "text": "|y| < 0.5", "fontSize": 19, "align": "left", "baseline": "alphabetic", "color": "black"},
      "encoding": {"x": {"datum": 3.545, "type": "quantitative", "axis": null}, "y": {"datum": 1.75, "type": "quantitative", "axis": null}}
    },
    {
      "data": {"values": [{}]},
      "mark": {"type": "text", "text": "Centrality 15-50%", "fontSize": 19, "align": "left", "baseline": "alphabetic", "color": "black"},
      "encoding": {"x": {"datum": 3.56, "type": "quantitative", "axis": null}, "y": {"datum": 1.2, "type": "quantitative", "axis": null}}
    },
    {
      "data": {"values": [{}]},
      "mark": {"type": "text", "text": "syst. error", "fontSize": 15, "align": "left", "baseline": "alphabetic", "color": "black"},
      "encoding": {"x": {"datum": 1.69, "type": "quantitative", "axis": null}, "y": {"datum": -1.97, "type": "quantitative", "axis": null}}
    },
    {
      "data": {"values": [{}]},
      "mark": {"type": "text", "text": "± 1σ for", "fontSize": 15, "align": "left", "baseline": "alphabetic", "color": "black"},
      "encoding": {"x": {"datum": 1.69, "type": "quantitative", "axis": null}, "y": {"datum": -2.392, "type": "quantitative", "axis": null}}
    },
    {
      "data": {"values": [{}]},
      "mark": {"type": "text", "text": "P", "fontSize": 15, "fontStyle": "italic", "align": "left", "baseline": "alphabetic", "color": "black", "dx": 56},
      "encoding": {"x": {"datum": 1.69, "type": "quantitative", "axis": null}, "y": {"datum": -2.392, "type": "quantitative", "axis": null}}
    },
    {
      "data": {"values": [{}]},
      "mark": {"type": "text", "text": "Λ", "font": "Liberation Serif", "fontSize": 10, "align": "left", "baseline": "alphabetic", "color": "black", "dx": 66, "dy": 4},
      "encoding": {"x": {"datum": 1.69, "type": "quantitative", "axis": null}, "y": {"datum": -2.392, "type": "quantitative", "axis": null}}
    },
    {
      "data": {"values": [{}]},
      "mark": {"type": "text", "text": "± 1σ for", "fontSize": 15, "align": "left", "baseline": "alphabetic", "color": "black"},
      "encoding": {"x": {"datum": 1.69, "type": "quantitative", "axis": null}, "y": {"datum": -2.797, "type": "quantitative", "axis": null}}
    },
    {
      "data": {"values": [{}]},
      "mark": {"type": "text", "text": "P", "fontSize": 15, "fontStyle": "italic", "align": "left", "baseline": "alphabetic", "color": "black", "dx": 56},
      "encoding": {"x": {"datum": 1.69, "type": "quantitative", "axis": null}, "y": {"datum": -2.797, "type": "quantitative", "axis": null}}
    },
    {
      "data": {"values": [{}]},
      "mark": {"type": "text", "text": "Λ", "font": "Liberation Serif", "fontSize": 10, "align": "left", "baseline": "alphabetic", "color": "black", "dx": 66, "dy": 7},
      "encoding": {"x": {"datum": 1.69, "type": "quantitative", "axis": null}, "y": {"datum": -2.797, "type": "quantitative", "axis": null}}
    },
    {
      "data": {"values": [{}]},
      "mark": {"type": "rule", "color": "black", "strokeWidth": 1},
      "encoding": {"x": {"datum": 2.178, "type": "quantitative", "axis": null}, "x2": {"datum": 2.23}, "y": {"datum": -2.72, "type": "quantitative", "axis": null}}
    },
    {
      "data": {"values": [{}]},
      "mark": {"type": "text", "text": ")", "fontSize": 25, "align": "right", "baseline": "alphabetic", "color": "black"},
      "encoding": {"x": {"datum": 4.94, "type": "quantitative", "axis": null}, "y": {"datum": -4.39, "type": "quantitative", "axis": null}}
    },
    {
      "data": {"values": [{}]},
      "mark": {"type": "text", "text": "c", "fontSize": 25, "fontStyle": "italic", "align": "right", "baseline": "alphabetic", "color": "black", "dx": -8.5},
      "encoding": {"x": {"datum": 4.94, "type": "quantitative", "axis": null}, "y": {"datum": -4.39, "type": "quantitative", "axis": null}}
    },
    {
      "data": {"values": [{}]},
      "mark": {"type": "text", "text": "(GeV/", "fontSize": 25, "align": "right", "baseline": "alphabetic", "color": "black", "dx": -21},
      "encoding": {"x": {"datum": 4.94, "type": "quantitative", "axis": null}, "y": {"datum": -4.39, "type": "quantitative", "axis": null}}
    },
    {
      "data": {"values": [{}]},
      "mark": {"type": "text", "text": "T", "fontSize": 16, "align": "right", "baseline": "alphabetic", "color": "black", "dx": -93, "dy": 5},
      "encoding": {"x": {"datum": 4.94, "type": "quantitative", "axis": null}, "y": {"datum": -4.39, "type": "quantitative", "axis": null}}
    },
    {
      "data": {"values": [{}]},
      "mark": {"type": "text", "text": "p", "fontSize": 25, "align": "right", "baseline": "alphabetic", "color": "black", "dx": -103},
      "encoding": {"x": {"datum": 4.94, "type": "quantitative", "axis": null}, "y": {"datum": -4.39, "type": "quantitative", "axis": null}}
    },
    {
      "data": {"values": [{}]},
      "mark": {"type": "text", "text": "(%)", "fontSize": 21, "angle": 270, "align": "right", "baseline": "alphabetic", "color": "black", "dx": -1, "dy": -63},
      "encoding": {"x": {"datum": 0.482, "type": "quantitative", "axis": null}, "y": {"datum": 3.5, "type": "quantitative", "axis": null}}
    },
    {
      "data": {"values": [{}]},
      "mark": {"type": "text", "text": "H", "fontSize": 13, "angle": 270, "align": "right", "baseline": "alphabetic", "color": "black", "dx": -39, "dy": -54},
      "encoding": {"x": {"datum": 0.482, "type": "quantitative", "axis": null}, "y": {"datum": 3.5, "type": "quantitative", "axis": null}}
    },
    {
      "data": {"values": [{}]},
      "mark": {"type": "text", "text": "P", "fontSize": 22, "fontStyle": "italic", "angle": 270, "align": "right", "baseline": "alphabetic", "color": "black", "dx": -51, "dy": -63},
      "encoding": {"x": {"datum": 0.482, "type": "quantitative", "axis": null}, "y": {"datum": 3.5, "type": "quantitative", "axis": null}}
    }
  ],
  "resolve": {"axis": {"x": "independent", "y": "independent"}}
}
